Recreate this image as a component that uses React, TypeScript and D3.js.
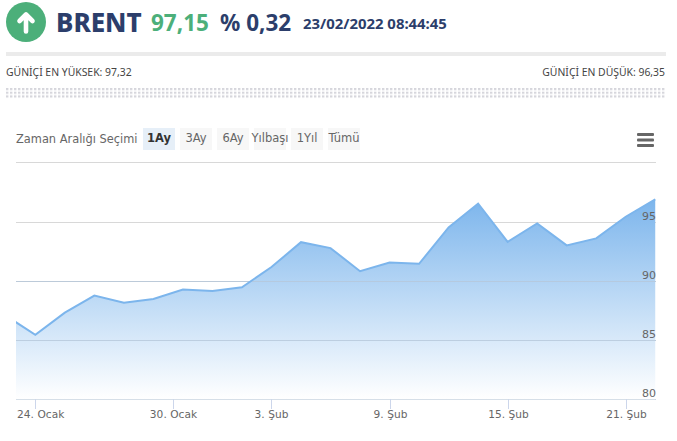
import React from "react";
import * as d3 from "d3";

const W = 677, H = 441;
const dayStrings = ["2022-01-21","2022-01-24","2022-01-25","2022-01-26","2022-01-27","2022-01-28","2022-01-31","2022-02-01","2022-02-02","2022-02-03","2022-02-04","2022-02-07","2022-02-08","2022-02-09","2022-02-10","2022-02-11","2022-02-14","2022-02-15","2022-02-16","2022-02-17","2022-02-18","2022-02-21","2022-02-22"];
const prices = [87.1,85.48,87.35,88.79,88.19,88.5,89.3,89.18,89.49,91.2,93.3,92.8,90.85,91.58,91.47,94.55,96.55,93.33,94.89,93.03,93.62,95.45,96.92];
const yTicks = [80,85,90,95];
const gridValues = [80,85,90,95,100];
const xTickDays = ["2022-01-24","2022-01-30","2022-02-03","2022-02-09","2022-02-15","2022-02-21"];
const xTickLabels = ["24. Ocak","30. Ocak","3. Şub","9. Şub","15. Şub","21. Şub"];
const rangeButtons = ["1Ay","3Ay","6Ay","Yılbaşı","1Yıl","Tümü"];
const buttonLefts = [143,180,217,254,291,328];

const parse = d3.utcParse("%Y-%m-%d");
const dates = dayStrings.map(d => parse(d)!);
const stepX = 29.52, firstX = 5.8;
const x = d3.scaleUtc().domain(dates).range(dates.map((_, i) => firstX + i * stepX));
const y = d3.scaleLinear().domain([80, 100]).range([399.6, 162.9]);
const gy = (v: number) => Math.floor(y(v)) + 0.5;
const pts = dates.map((d, i) => [x(d), y(prices[i])] as [number, number]);
const line = d3.line();
const area = d3.area().x(d => d[0]).y0(399.5).y1(d => d[1]);
const nav = "#2c3e6b";
const green = "#4caf7a";
const chartFont = "'DejaVu Sans', sans-serif";
const headFont = "'Noto Sans', sans-serif";

export default function App() {
  return (
    <svg width={W} height={H} viewBox={`0 0 ${W} ${H}`} style={{ position: "absolute", left: 0, top: 0, background: "#fff" }}>
      <defs>
        <linearGradient id="fillUser" gradientUnits="userSpaceOnUse" x1="0" y1="199" x2="0" y2="399">
          <stop offset="0" stopColor="#7cb5ec" />
          <stop offset="1" stopColor="#ffffff" />
        </linearGradient>
        <pattern id="dots" width="4" height="3.7" patternUnits="userSpaceOnUse" x="6" y="88">
          <rect width="2.4" height="2.2" fill="#d6d6dc" />
        </pattern>
        <clipPath id="plot"><rect x="16" y="150" width="640" height="249.5" /></clipPath>
      </defs>

      <circle cx="26" cy="22" r="20" fill={green} />
      <path d="M26 31.5V15M19.5 21L26 14.5L32.5 21" fill="none" stroke="#fff" strokeWidth="4.6" strokeLinecap="round" strokeLinejoin="round" />
      <text x="56" y="32" fontFamily={headFont} fontWeight="800" fontSize="26" fill={nav}>BRENT</text>
      <text x="151" y="31" fontFamily={headFont} fontWeight="700" fontSize="22.5" fill={green}>97,15</text>
      <text x="220" y="31" fontFamily={headFont} fontWeight="700" fontSize="22.5" fill={nav}>% 0,32</text>
      <text x="303" y="29" fontFamily={headFont} fontWeight="700" fontSize="14.9" fill={nav}>23/02/2022 08:44:45</text>

      <rect x="6" y="52" width="660" height="4" fill="#ebebeb" />
      <text x="6" y="76" fontFamily={headFont} fontSize="10.4" fill="#444">GÜNİÇİ EN YÜKSEK: 97,32</text>
      <text x="665" y="76" textAnchor="end" fontFamily={headFont} fontSize="10.4" fill="#444">GÜNİÇİ EN DÜŞÜK: 96,35</text>
      <rect x="6" y="88" width="660" height="10.5" fill="url(#dots)" />

      <text x="16" y="143" fontFamily={chartFont} fontSize="11.4" fill="#666">Zaman Aralığı Seçimi</text>
      {rangeButtons.map((b, i) => (
        <g key={b}>
          <rect x={buttonLefts[i]} y={128} width={32} height={22} fill={i === 0 ? "#e6eff8" : "#f7f7f7"} />
          <text x={buttonLefts[i] + 16} y={142} textAnchor="middle" fontFamily={chartFont} fontSize="11.5"
            fontWeight={i === 0 ? 700 : 400} fill={i === 0 ? "#333" : "#666"}>{b}</text>
        </g>
      ))}
      <g fill="#666">
        {[133, 138.5, 144].map(v => <rect key={v} x="637" y={v} width="17" height="3" rx="1" />)}
      </g>

      {gridValues.map(v => (
        <line key={v} x1="16" x2="656" y1={gy(v)} y2={gy(v)} stroke={v === 80 ? "#c8d4e0" : "#d8d8d8"} />
      ))}
      <g clipPath="url(#plot)">
        <path d={area(pts) ?? ""} fill="url(#fillUser)" />
        {[85, 90].map(v => <line key={v} x1="16" x2="656" y1={gy(v)} y2={gy(v)} stroke="#b5c7da" strokeOpacity="0.8" />)}
        <path d={line(pts) ?? ""} fill="none" stroke="#7cb5ec" strokeWidth="2" />
      </g>
      {yTicks.map(v => (
        <text key={v} x="656" y={y(v) - 2.5} textAnchor="end" fontFamily={chartFont} fontSize="11" fill="#666">{v}</text>
      ))}
      {xTickDays.map((d, i) => {
        const px = Math.round(x(parse(d)!)) + 0.5;
        const first = i === 0;
        return (
          <g key={d}>
            <line x1={px} x2={px} y1="399" y2="409" stroke="#ccd6eb" />
            <text x={first ? 17 : px} y="418" textAnchor={first ? "start" : "middle"} fontFamily={chartFont} fontSize="10.6" letterSpacing="0.05" fill="#666">{xTickLabels[i]}</text>
          </g>
        );
      })}
    </svg>
  );
}
